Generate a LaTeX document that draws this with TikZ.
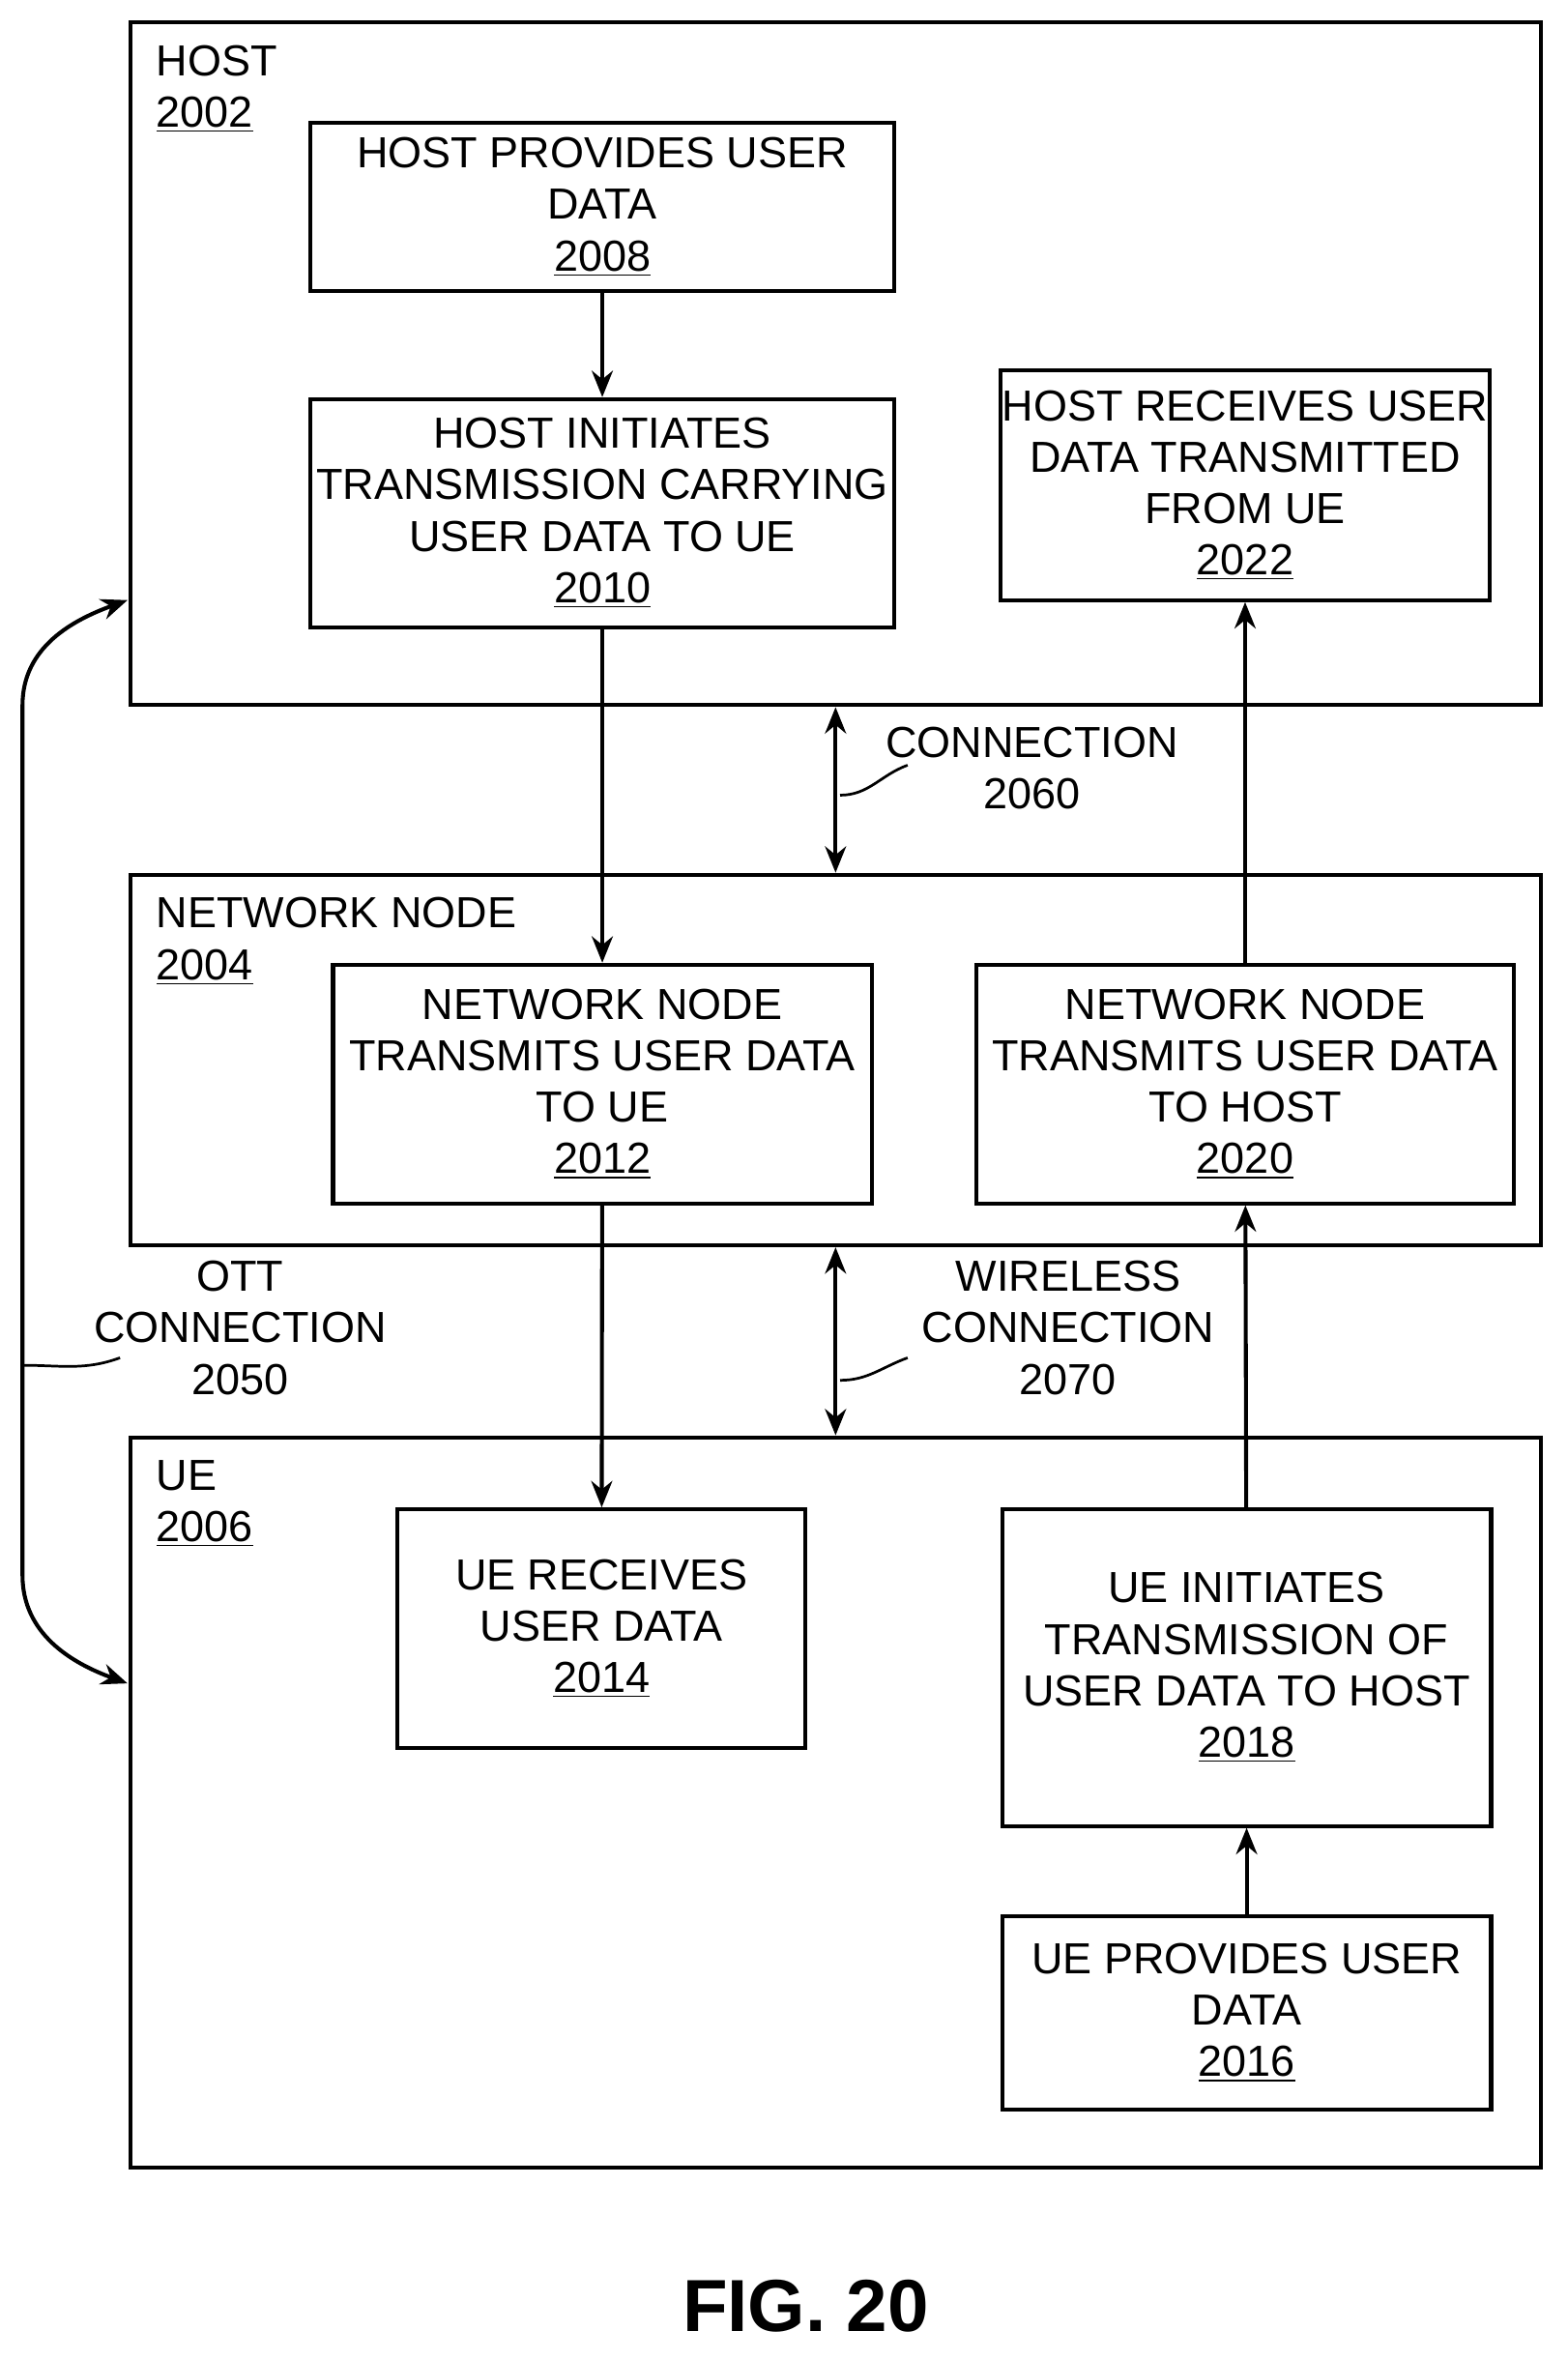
\documentclass[tikz,border=0pt]{standalone}
\usepackage{fontspec}
\setmainfont{Liberation Sans}
\usetikzlibrary{arrows.meta,fit}
\tikzset{
  frame/.style={draw,line width=1.5pt,inner sep=0pt},
  box/.style={draw,line width=1.5pt,inner sep=0pt},
  flow/.style={line width=1.5pt,-{Stealth[length=10pt,width=8pt]}},
  dbl/.style={line width=1.5pt,{Stealth[length=10pt,width=8pt]}-{Stealth[length=10pt,width=8pt]}},
  lead/.style={line width=1pt},
  txt/.style={align=center,inner sep=0pt}
}
\newcommand{\num}[1]{\underline{#1}}
\begin{document}
\begin{tikzpicture}[x=0.02cm,y=-0.02cm,font=\fontsize{16.5}{19.5}\selectfont]
  \useasboundingbox (0,0) rectangle (1045,1573);

  % Outer frames
  \node[frame,fit={(87,15)(1027,470)}] (host) {};
  \node[frame,fit={(87,583)(1027,830)}] (net) {};
  \node[frame,fit={(87,958)(1027,1445)}] (ue) {};
  \node[txt,align=left,anchor=north west] (lhost) at (104,30) {HOST\\\num{2002}};
  \node[txt,align=left,anchor=north west] (lnet) at (104,598) {NETWORK NODE\\\num{2004}};
  \node[txt,align=left,anchor=north west] (lue) at (104,973) {UE\\\num{2006}};

  % Steps in the host
  \node[box,fit={(207,82)(596,194)}] (b2008) {};
  \node[txt] at (b2008) {HOST PROVIDES USER\\DATA\\\num{2008}};
  \node[box,fit={(207,266)(596,418)}] (b2010) {};
  \node[txt] at (b2010) {HOST INITIATES\\TRANSMISSION CARRYING\\USER DATA TO UE\\\num{2010}};
  \node[box,fit={(667,247)(993,400)}] (b2022) {};
  \node[txt] at (b2022) {HOST RECEIVES USER\\DATA TRANSMITTED\\FROM UE\\\num{2022}};

  % Steps in the network node
  \node[box,fit={(222,643)(581,802)}] (b2012) {};
  \node[txt] at (b2012) {NETWORK NODE\\TRANSMITS USER DATA\\TO UE\\\num{2012}};
  \node[box,fit={(651,643)(1009,802)}] (b2020) {};
  \node[txt] at (b2020) {NETWORK NODE\\TRANSMITS USER DATA\\TO HOST\\\num{2020}};

  % Steps in the UE
  \node[box,fit={(265,1006)(537,1165)}] (b2014) {};
  \node[txt] at (b2014) {UE RECEIVES\\USER DATA\\\num{2014}};
  \node[box,fit={(668,1006)(994,1217)}] (b2018) {};
  \node[txt] at (b2018) {UE INITIATES\\TRANSMISSION OF\\USER DATA TO HOST\\\num{2018}};
  \node[box,fit={(668,1277)(994,1406)}] (b2016) {};
  \node[txt] at (b2016) {UE PROVIDES USER\\DATA\\\num{2016}};

  % Flow arrows
  \draw[flow] (b2008) -- (b2010);
  \draw[flow] (b2010) -- (b2012);
  \draw[flow] (b2012) -- (b2014);
  \draw[flow] (b2016) -- (b2018);
  \draw[flow] (b2018) -- (b2020);
  \draw[flow] (b2020) -- (b2022);

  % Connections
  \coordinate (cx) at (557,0);
  \draw[dbl] (host.south -| cx) -- (net.north -| cx);
  \draw[dbl] (net.south -| cx) -- (ue.north -| cx);
  \node[txt] (l2060) at (688,512) {CONNECTION\\2060};
  \draw[lead] (560,530) to[out=0,in=200] (605,510);
  \node[txt] (l2070) at (712,885) {WIRELESS\\CONNECTION\\2070};
  \draw[lead] (560,920) to[out=0,in=200] (605,905);

  % OTT connection
  \coordinate (ott1) at (85,400);
  \coordinate (ott2) at (85,1122);
  \draw[dbl] (ott1) to[out=200,in=90] (15,470) -- (15,1050) to[out=-90,in=160] (ott2);
  \node[txt] (l2050) at (160,885) {OTT\\CONNECTION\\2050};
  \draw[lead] (16,910) to[out=0,in=200] (80,905);

  \node[font=\fontsize{28}{32}\selectfont\bfseries] (fig) at (537,1537) {FIG. 20};
\end{tikzpicture}
\end{document}
